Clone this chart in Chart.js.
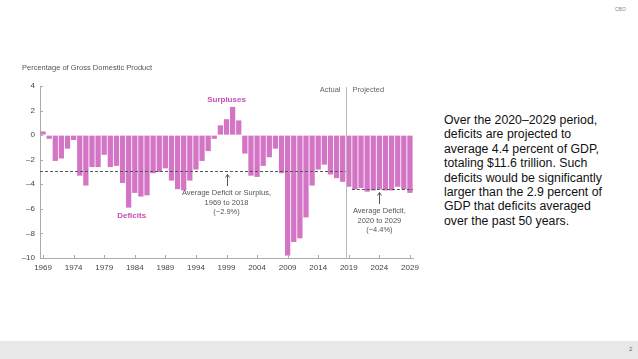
<!DOCTYPE html>
<html>
<head>
<meta charset="utf-8">
<script src="https://cdn.jsdelivr.net/npm/chart.js@4.4.1/dist/chart.umd.min.js"></script>
<style>
  html, body { margin: 0; padding: 0; background: #fff; }
  body { width: 638px; height: 359px; position: relative; overflow: hidden; font-family: "Liberation Sans", Arial, sans-serif; }
  #c { position: absolute; left: 0; top: 0; }
  #title { position: absolute; left: 22px; top: 63px; font-size: 7.5px; color: #555; white-space: nowrap; }
  #note { position: absolute; left: 444px; top: 113px; width: 194px; font-size: 12.3px; line-height: 14.4px; color: #111; white-space: nowrap; }
  #cbo { position: absolute; left: 615px; top: 6px; font-size: 5px; color: #888; }
  #band { position: absolute; left: 0; top: 341px; width: 638px; height: 18px; background: #e8e8e8; }
  #pg { position: absolute; left: 629px; top: 346px; font-size: 6px; color: #666; }
</style>
</head>
<body>
<canvas id="c" width="440" height="290"></canvas>
<div id="title">Percentage of Gross Domestic Product</div>
<div id="note">Over the 2020–2029 period,<br>deficits are projected to<br>average 4.4 percent of GDP,<br>totaling $11.6 trillion. Such<br>deficits would be significantly<br>larger than the 2.9 percent of<br>GDP that deficits averaged<br>over the past 50 years.</div>
<div id="cbo">CBO</div>
<div id="band"></div>
<div id="pg">2</div>
<script>
// ---- data ----
const years = [];
for (let y = 1969; y <= 2029; y++) years.push(String(y));

const actualValues = [
  0.3, -0.3, -2.1, -1.9, -1.1, -0.4, -3.3, -4.1, -2.6, -2.6,
  -1.6, -2.6, -2.5, -3.9, -5.9, -4.7, -5.0, -4.9, -3.1, -3.0,
  -2.7, -3.7, -4.4, -4.5, -3.7, -2.8, -2.1, -1.3, -0.3, 0.8,
  1.3, 2.3, 1.2, -1.5, -3.3, -3.4, -2.5, -1.8, -1.1, -3.1,
  -9.8, -8.7, -8.4, -6.7, -4.1, -2.8, -2.4, -3.2, -3.5, -3.8
]; // 1969–2018
const projectedValues = [-4.2, -4.4, -4.3, -4.6, -4.5, -4.4, -4.5, -4.5, -4.2, -4.4, -4.7]; // 2019–2029
const deficitValues = actualValues.concat(projectedValues);

const yTicks = [4, 2, 0, -2, -4, -6, -8, -10];
const xTickYears = ['1969','1974','1979','1984','1989','1994','1999','2004','2009','2014','2019','2024','2029'];
const avgHistorical = -2.9; // 1969–2018
const avgProjected = -4.4;  // 2020–2029

const BAR = '#d374c4';
const MAG = '#c54fb0';

const annot = {
  id: 'annot',
  afterDatasetsDraw(chart) {
    const {ctx, chartArea: ca, scales: {x, y}} = chart;
    const step = x.getPixelForValue(1) - x.getPixelForValue(0);
    ctx.save();
    // dashed average lines
    ctx.strokeStyle = '#555';
    ctx.lineWidth = 1;
    ctx.setLineDash([3, 2]);
    const yh = Math.round(y.getPixelForValue(avgHistorical)) + 0.5;
    ctx.beginPath();
    ctx.moveTo(ca.left, yh);
    ctx.lineTo(x.getPixelForValue(years.indexOf('2018')) + step / 2, yh);
    ctx.stroke();
    const yp = Math.round(y.getPixelForValue(avgProjected)) + 0.5;
    ctx.beginPath();
    ctx.moveTo(x.getPixelForValue(years.indexOf('2020')) - step / 2, yp);
    ctx.lineTo(x.getPixelForValue(years.indexOf('2029')) + step / 2, yp);
    ctx.stroke();
    ctx.setLineDash([]);

    // actual / projected divider
    const xd = Math.round(x.getPixelForValue(years.indexOf('2018')) + step / 2) + 0.5;
    ctx.strokeStyle = '#bbb';
    ctx.beginPath();
    ctx.moveTo(xd, ca.top + 1);
    ctx.lineTo(xd, ca.bottom);
    ctx.stroke();
    ctx.font = '7.5px "Liberation Sans", Arial, sans-serif';
    ctx.fillStyle = '#666';
    ctx.textBaseline = 'middle';
    ctx.textAlign = 'right';
    ctx.fillText('Actual', xd - 6, ca.top + 4);
    ctx.textAlign = 'left';
    ctx.fillText('Projected', xd + 6, ca.top + 4);

    // tick stubs
    ctx.strokeStyle = '#aaa';
    xTickYears.forEach(yr => {
      const px = Math.round(x.getPixelForValue(years.indexOf(yr))) + 0.5;
      ctx.beginPath(); ctx.moveTo(px, ca.bottom); ctx.lineTo(px, ca.bottom - 3); ctx.stroke();
    });
    yTicks.forEach(v => {
      const py = Math.round(y.getPixelForValue(v)) + 0.5;
      ctx.beginPath(); ctx.moveTo(ca.left, py); ctx.lineTo(ca.left + 3, py); ctx.stroke();
    });

    // labels
    ctx.textAlign = 'center';
    ctx.fillStyle = MAG;
    ctx.font = 'bold 8px "Liberation Sans", Arial, sans-serif';
    ctx.fillText('Surpluses', x.getPixelForValue(years.indexOf('1999')), y.getPixelForValue(2.9));
    ctx.fillText('Deficits', x.getPixelForValue(years.indexOf('1983')) + 3, y.getPixelForValue(-6.55));

    ctx.fillStyle = '#555';
    ctx.font = '7.5px "Liberation Sans", Arial, sans-serif';
    const xa = x.getPixelForValue(years.indexOf('1999'));
    ctx.fillText('Average Deficit or Surplus,', xa, 193);
    ctx.fillText('1969 to 2018', xa, 202.5);
    ctx.fillText('(\u22122.9%)', xa, 212);
    const xb = x.getPixelForValue(years.indexOf('2024'));
    ctx.fillText('Average Deficit,', xb, 211);
    ctx.fillText('2020 to 2029', xb, 220.5);
    ctx.fillText('(\u22124.4%)', xb, 230);

    // arrows
    function arrow(px, y0, y1) {
      px = Math.round(px) + 0.5;
      ctx.strokeStyle = '#555';
      ctx.beginPath(); ctx.moveTo(px, y0); ctx.lineTo(px, y1); ctx.stroke();
      ctx.beginPath(); ctx.moveTo(px - 2, y1 + 3); ctx.lineTo(px, y1); ctx.lineTo(px + 2, y1 + 3); ctx.stroke();
    }
    arrow(xa, 186, yh + 3);
    arrow(xb, 204, yp + 3);
    ctx.restore();
  }
};

new Chart(document.getElementById('c'), {
  type: 'bar',
  data: {
    labels: years,
    datasets: [{
      data: deficitValues,
      backgroundColor: BAR,
      borderWidth: 0,
      barPercentage: 0.86,
      categoryPercentage: 1.0
    }]
  },
  options: {
    responsive: false,
    animation: false,
    devicePixelRatio: 1,
    layout: { padding: { top: 86, right: 27, bottom: 10, left: 0 } },
    plugins: { legend: { display: false }, tooltip: { enabled: false } },
    scales: {
      x: {
        grid: { display: true, drawOnChartArea: false, drawTicks: false },
        border: { display: true, color: '#aaa', width: 1 },
        afterFit(s) { s.height = 22; },
        ticks: {
          autoSkip: false, maxRotation: 0, padding: 5,
          color: '#444', font: { size: 8, family: '"Liberation Sans", Arial, sans-serif' },
          callback(v, i) { const l = years[i]; return xTickYears.includes(l) ? l : ''; }
        }
      },
      y: {
        min: -10, max: 4,
        afterFit(s) { s.width = 40; },
        afterBuildTicks(s) { s.ticks = yTicks.map(v => ({ value: v })); },
        grid: { display: true, drawOnChartArea: false, drawTicks: false },
        border: { display: true, color: '#aaa', width: 1 },
        ticks: {
          padding: 5, color: '#444',
          font: { size: 8, family: '"Liberation Sans", Arial, sans-serif' },
          callback(v) { return v < 0 ? '\u2013' + Math.abs(v) : String(v); }
        }
      }
    }
  },
  plugins: [annot]
});
</script>
</body>
</html>
